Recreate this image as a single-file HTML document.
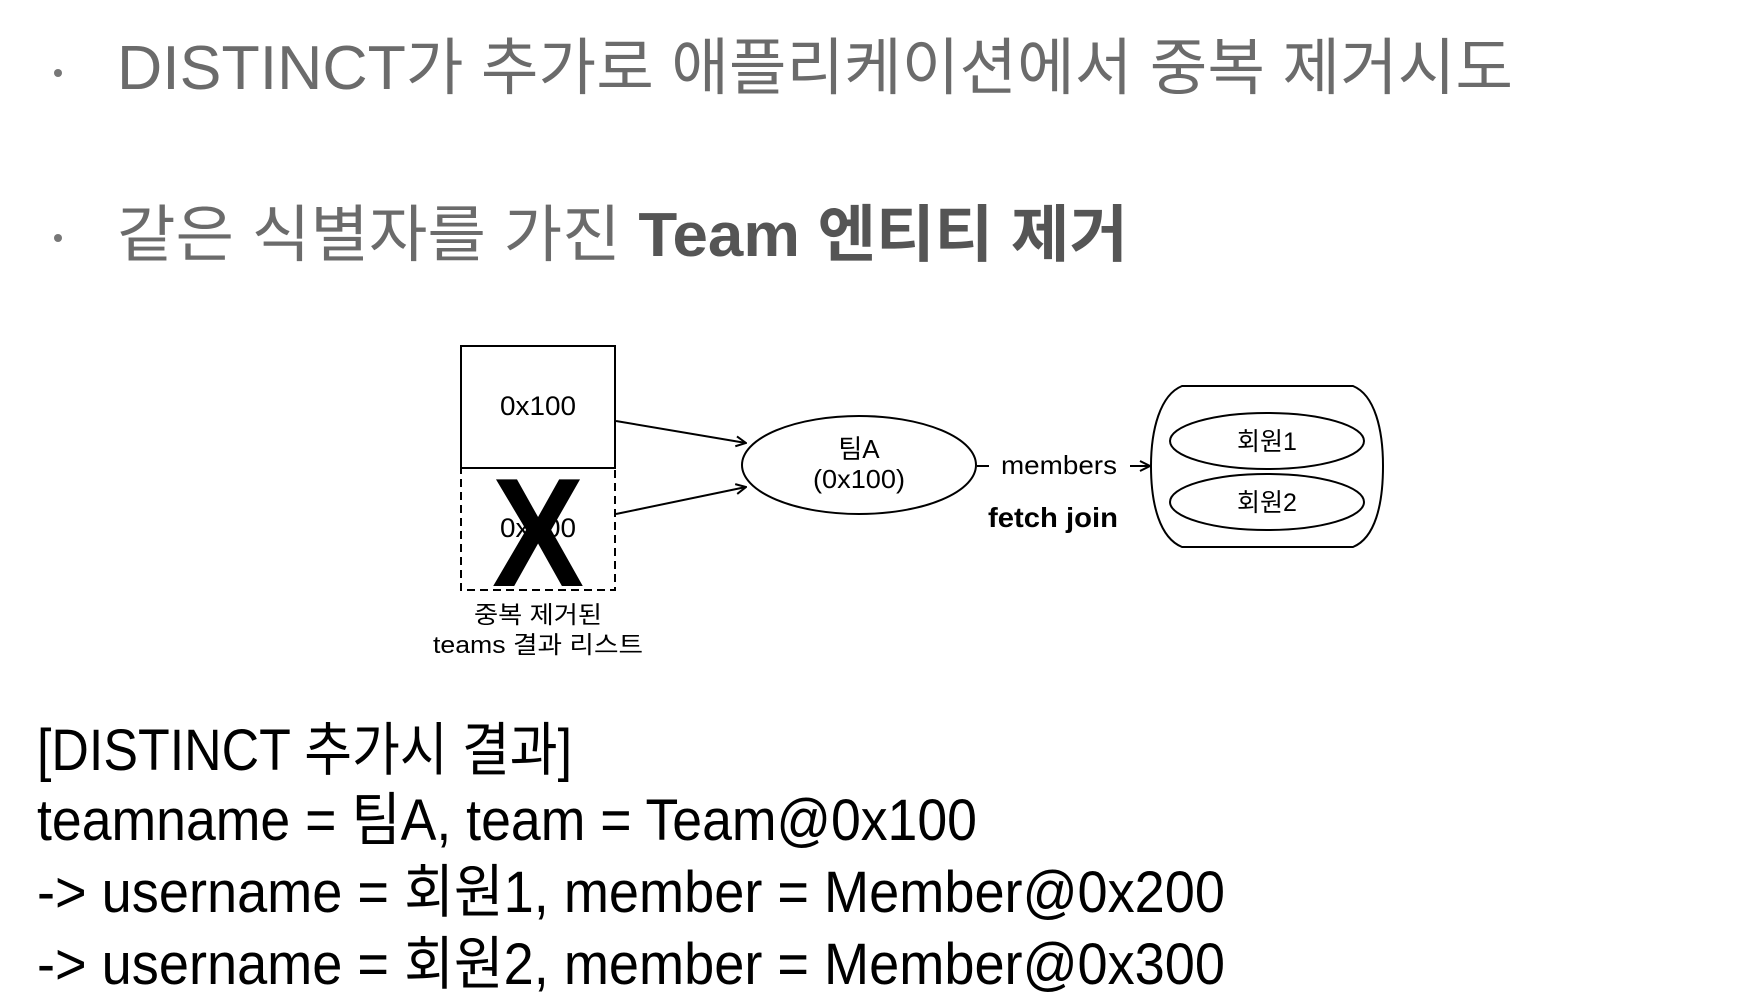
<!DOCTYPE html>
<html><head><meta charset="utf-8"><style>
html,body{margin:0;padding:0;background:#fff;width:1742px;height:1008px;overflow:hidden}
svg{display:block}
text{font-family:"Liberation Sans","Noto Sans CJK KR",sans-serif}
</style></head><body>
<svg width="1742" height="1008" viewBox="0 0 1742 1008" xmlns="http://www.w3.org/2000/svg">
<defs>
<marker id="ah" viewBox="0 0 12 12" refX="11" refY="6" markerWidth="12" markerHeight="12" markerUnits="userSpaceOnUse" orient="auto">
<path d="M1,1 L11,6 L1,11" fill="none" stroke="#000" stroke-width="2"/>
</marker>
</defs>
<circle cx="58" cy="73" r="4" fill="#777"/>
<text x="117" y="89" font-size="62" fill="#6b6b6b" textLength="1396" lengthAdjust="spacingAndGlyphs">DISTINCT가 추가로 애플리케이션에서 중복 제거시도</text>
<circle cx="58" cy="238" r="4" fill="#777"/>
<text x="117" y="256" font-size="62" fill="#6b6b6b" textLength="1011" lengthAdjust="spacingAndGlyphs">같은 식별자를 가진 <tspan font-weight="bold" fill="#555">Team 엔티티 제거</tspan></text>

<rect x="461" y="346" width="154" height="122" fill="none" stroke="#000" stroke-width="2"/>
<rect x="461" y="468" width="154" height="122" fill="none" stroke="#000" stroke-width="2" stroke-dasharray="8,5"/>
<text x="538" y="415" font-size="27" text-anchor="middle" textLength="76" lengthAdjust="spacingAndGlyphs">0x100</text>
<text x="538" y="537" font-size="27" text-anchor="middle" textLength="76" lengthAdjust="spacingAndGlyphs">0x100</text>
<text x="538" y="586" font-size="155" font-weight="bold" text-anchor="middle" textLength="92" lengthAdjust="spacingAndGlyphs">X</text>
<text x="538" y="623" font-size="24" text-anchor="middle" textLength="128" lengthAdjust="spacingAndGlyphs">중복 제거된</text>
<text x="538" y="653" font-size="24" text-anchor="middle" textLength="210" lengthAdjust="spacingAndGlyphs">teams 결과 리스트</text>

<line x1="616" y1="421" x2="746" y2="443" stroke="#000" stroke-width="2" marker-end="url(#ah)"/>
<line x1="616" y1="514" x2="746" y2="487" stroke="#000" stroke-width="2" marker-end="url(#ah)"/>
<ellipse cx="859" cy="465" rx="117" ry="49" fill="none" stroke="#000" stroke-width="2"/>
<text x="859" y="458" font-size="26" text-anchor="middle">팀A</text>
<text x="859" y="488" font-size="26" text-anchor="middle" textLength="92" lengthAdjust="spacingAndGlyphs">(0x100)</text>

<line x1="977" y1="466" x2="989" y2="466" stroke="#000" stroke-width="2"/>
<text x="1059" y="474" font-size="26" text-anchor="middle" textLength="116" lengthAdjust="spacingAndGlyphs">members</text>
<line x1="1130" y1="466" x2="1150" y2="466" stroke="#000" stroke-width="2" marker-end="url(#ah)"/>
<text x="1053" y="527" font-size="28" font-weight="bold" text-anchor="middle" textLength="130" lengthAdjust="spacingAndGlyphs">fetch join</text>

<path d="M1182,386 L1353,386 C1375,395 1383,430 1383,466 C1383,505 1375,538 1353,547 L1182,547 C1160,538 1151,505 1151,466 C1151,430 1160,395 1182,386 Z" fill="none" stroke="#000" stroke-width="2"/>
<ellipse cx="1267" cy="441" rx="97" ry="28" fill="none" stroke="#000" stroke-width="2"/>
<ellipse cx="1267" cy="502" rx="97" ry="28" fill="none" stroke="#000" stroke-width="2"/>
<text x="1267" y="450" font-size="25" text-anchor="middle">회원1</text>
<text x="1267" y="511" font-size="25" text-anchor="middle">회원2</text>

<text x="37" y="770" font-size="58" textLength="535" lengthAdjust="spacingAndGlyphs">[DISTINCT 추가시 결과]</text>
<text x="37" y="840" font-size="58" textLength="940" lengthAdjust="spacingAndGlyphs">teamname = 팀A, team = Team@0x100</text>
<text x="37" y="912" font-size="58" textLength="1188" lengthAdjust="spacingAndGlyphs">-&gt; username = 회원1, member = Member@0x200</text>
<text x="37" y="984" font-size="58" textLength="1188" lengthAdjust="spacingAndGlyphs">-&gt; username = 회원2, member = Member@0x300</text>
</svg>
</body></html>
